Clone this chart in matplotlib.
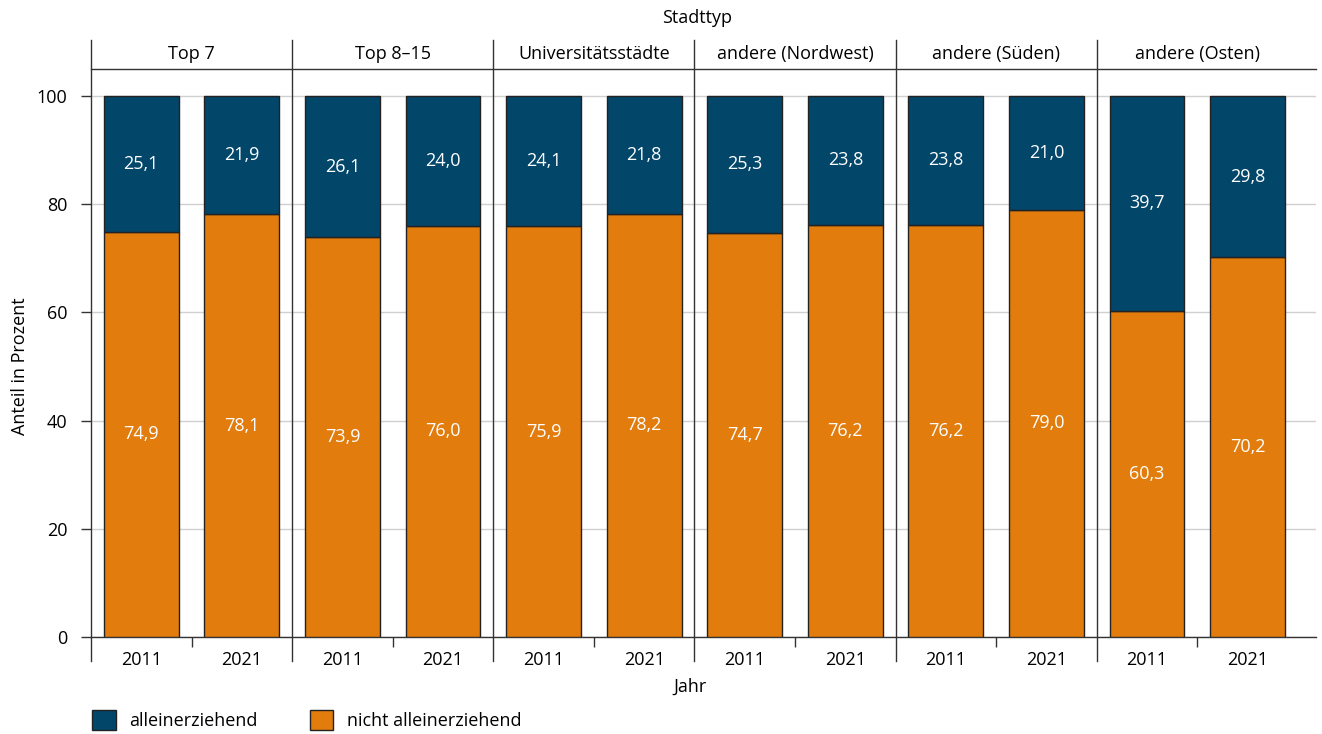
import numpy as np
import matplotlib.pyplot as plt
from matplotlib.patches import Patch

plt.rcParams['font.family'] = ['Open Sans', 'DejaVu Sans']

# data
stadttyp = ['Top 7', 'Top 8–15', 'Universitätsstädte', 'andere (Nordwest)', 'andere (Süden)', 'andere (Osten)']
jahre = ['2011', '2021']
allein = [25.1, 21.9, 26.1, 24.0, 24.1, 21.8, 25.3, 23.8, 23.8, 21.0, 39.7, 29.8]
nicht_allein = [74.9, 78.1, 73.9, 76.0, 75.9, 78.2, 74.7, 76.2, 76.2, 79.0, 60.3, 70.2]

blau = '#02466a'
orange = '#e27c0d'
fs = 13

fig = plt.figure(figsize=(13.22, 7.34), dpi=100)
ax = fig.add_axes([91 / 1322, 1 - 637 / 734, (1316 - 91) / 1322, (637 - 40) / 734])

ymax = 110.35
n = len(stadttyp)
x = []
for i in range(n):
    x += [2 * i + 0.5, 2 * i + 1.5]
x = np.array(x)

ax.bar(x, nicht_allein, width=0.745, color=orange, edgecolor='#222222', linewidth=1, zorder=3)
ax.bar(x, allein, width=0.745, bottom=nicht_allein, color=blau, edgecolor='#222222', linewidth=1, zorder=3)

for xi, a, b in zip(x, allein, nicht_allein):
    ax.text(xi, b / 2, f'{b:.1f}'.replace('.', ','), ha='center', va='center', color='white', fontsize=fs)
    ax.text(xi, b + a / 2, f'{a:.1f}'.replace('.', ','), ha='center', va='center', color='white', fontsize=fs)

ax.set_xlim(0, 12.18)
ax.set_ylim(0, ymax)
ax.set_yticks([0, 20, 40, 60, 80, 100])
ax.yaxis.grid(True, color='#d0d0d0', linewidth=1, zorder=0)
ax.set_axisbelow(True)

ax.set_xticks(x)
ax.set_xticklabels(jahre * n)
ax.set_xticks(np.arange(1, 2 * n, 2), minor=True)
ax.tick_params(axis='x', which='major', length=0, pad=10, labelsize=fs)
ax.tick_params(axis='x', which='minor', length=7, width=1, color='#333333')
ax.tick_params(axis='y', length=7, width=1, color='#333333', labelsize=fs, pad=10)

for s in ['top', 'right', 'left']:
    ax.spines[s].set_visible(False)
ax.spines['bottom'].set_color('#333333')
ax.spines['bottom'].set_linewidth(1)

# header band and panel separators
ax.axhline(105, color='#333333', linewidth=1, clip_on=False)
for i in range(n):
    ax.plot([2 * i, 2 * i], [-4.4, ymax], color='#333333', linewidth=1, clip_on=False, zorder=4)
    ax.text(2 * i + 1, 107.7, stadttyp[i], ha='center', va='center', fontsize=fs)

fig.text(697 / 1322, 1 - 18 / 734, 'Stadttyp', ha='center', va='center', fontsize=fs)
fig.text(690 / 1322, 1 - 687 / 734, 'Jahr', ha='center', va='center', fontsize=fs)
fig.text(20 / 1322, 1 - 366 / 734, 'Anteil in Prozent', ha='center', va='center', rotation=90, fontsize=fs)

handles = [Patch(facecolor=blau, edgecolor='#222222', label='alleinerziehend'),
           Patch(facecolor=orange, edgecolor='#222222', label='nicht alleinerziehend')]
fig.legend(handles=handles, loc='center left', bbox_to_anchor=(76 / 1322, 1 - 720 / 734), ncol=2,
           frameon=False, fontsize=fs, handlelength=1.3, handleheight=1.3, columnspacing=2.9,
           handletextpad=0.75, borderpad=0.4)

fig.savefig('out.png', dpi=100)
